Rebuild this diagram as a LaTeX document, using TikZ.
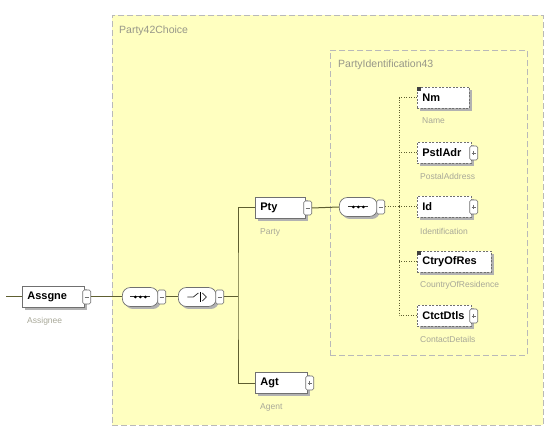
\documentclass[tikz,border=0pt]{standalone}
\usepackage{fontspec}
\setmainfont{Liberation Sans}
\usetikzlibrary{shadows,calc}
\definecolor{bgyel}{HTML}{FFFFC0}
\definecolor{conline}{HTML}{5E5E30}
\definecolor{lblc}{HTML}{A8A898}
\definecolor{boxc}{HTML}{707070}
\tikzset{
  elem/.style={draw=boxc, fill=white, line width=0.7pt, minimum height=21pt, inner ysep=0pt,
    inner xsep=5pt, text width=#1, align=left, font=\fontsize{11}{12}\selectfont\bfseries,
    drop shadow={shadow xshift=2.5pt, shadow yshift=-2.5pt, fill=gray!60, opacity=1}},
  optelem/.style={elem=#1, dash pattern=on 2pt off 1.5pt},
  conn/.style={draw=boxc, fill=white, line width=0.6pt, minimum width=8pt, minimum height=14pt,
    inner sep=0pt, rounded corners=1.5pt},
  comp/.style={draw=boxc, fill=white, line width=0.7pt, rounded corners=8pt, minimum height=19pt,
    minimum width=#1, inner sep=0pt,
    drop shadow={shadow xshift=2.5pt, shadow yshift=-2.5pt, fill=gray!60, opacity=1}},
  lbl/.style={font=\fontsize{8.5}{10}\selectfont, text=lblc, anchor=west, inner sep=0pt},
  ttl/.style={font=\fontsize{10.5}{12}\selectfont, text=lblc!90!black, anchor=west, inner sep=0pt},
  wire/.style={draw=conline, line width=1pt},
  dwire/.style={draw=conline, line width=1pt, dash pattern=on 1pt off 1.5pt},
  area/.style={draw=gray!55, fill=bgyel, line width=0.9pt, dash pattern=on 6pt off 3pt}
}
\newcommand{\plussign}[1]{\draw[boxc, line width=0.8pt] ($(#1)+(-2.2,0)$) -- ($(#1)+(2.2,0)$) ($(#1)+(0,-2.2)$) -- ($(#1)+(0,2.2)$);}
\newcommand{\minussign}[1]{\draw[boxc, line width=0.8pt] ($(#1)+(-2.2,0)$) -- ($(#1)+(2.2,0)$);}
\newcommand{\seqsym}[1]{\draw[black!80, line width=1pt] ($(#1)+(-10,0)$) -- ($(#1)+(10,0)$);
  \foreach \dx in {-5,0,5} \fill[black] ($(#1)+(\dx,0)$) circle (1.5pt);}
\newcommand{\chosym}[1]{\draw[black!80, line width=0.8pt] ($(#1)+(-10,0)$) -- ($(#1)+(-4,0)$) -- ($(#1)+(1,-4)$);
  \draw[black, line width=1.6pt] ($(#1)+(3,-5)$) -- ($(#1)+(3,5)$);
  \draw[black!80, line width=0.8pt] ($(#1)+(5,-4)$) -- ($(#1)+(9,0)$) -- ($(#1)+(5,4)$);}
\begin{document}
\begin{tikzpicture}[x=1pt, y=-1pt]
\useasboundingbox (0,0) rectangle (549,430);
% areas
\node[area, minimum width=431pt, minimum height=410pt, anchor=north west] (outer) at (112,15) {};
\node[ttl] (outert) at (119,31) {Party42Choice};
\node[area, minimum width=197pt, minimum height=305pt, anchor=north west] (inner) at (330,50) {};
\node[ttl] (innert) at (338,65) {PartyIdentification43};

% Assgne
\node[elem=52pt, anchor=west] (asg) at (22,297) {Assgne};
\node[conn] (asgc) at ($(asg.east)+(2,0)$) {};
\minussign{asgc}
\node[lbl] (asgl) at (27,321) {Assignee};
\coordinate (start) at (6,297);

% sequence 1
\node[comp=36pt, anchor=west] (seq1) at (122,297) {};
\seqsym{seq1}
\node[conn] (seq1c) at ($(seq1.east)+(3,0)$) {};
\minussign{seq1c}

% choice
\node[comp=38pt, anchor=west] (cho) at (178,297) {};
\chosym{cho}
\node[conn] (choc) at ($(cho.east)+(3,0)$) {};
\minussign{choc}
\coordinate (bus) at (238,297);

% Pty
\node[elem=40pt, anchor=west] (pty) at (255,208) {Pty};
\node[conn] (ptyc) at ($(pty.east)+(2,0)$) {};
\minussign{ptyc}
\node[lbl] (ptyl) at (260,232) {Party};

% Agt
\node[elem=42pt, anchor=west] (agt) at (255,383) {Agt};
\node[conn] (agtc) at ($(agt.east)+(2,0)$) {};
\plussign{agtc}
\node[lbl] (agtl) at (260,407) {Agent};

% sequence 2
\node[comp=38pt, anchor=west] (seq2) at (339,207) {};
\seqsym{seq2}
\node[conn] (seq2c) at ($(seq2.east)+(3,0)$) {};
\minussign{seq2c}
\coordinate (dbus) at (399,207);

% children
\node[optelem=42pt, anchor=west] (nm) at (417,98) {Nm};
\node[lbl] (nml) at (422,121) {Name};
\fill[black!75] (nm.north west) rectangle ++(4,4);

\node[optelem=44pt, anchor=west] (pst) at (417,153) {PstlAdr};
\node[conn] (pstc) at ($(pst.east)+(2,0)$) {};
\plussign{pstc}
\node[lbl] (pstl) at (420,176) {PostalAddress};

\node[optelem=44pt, anchor=west] (id) at (417,207) {Id};
\node[conn] (idc) at ($(id.east)+(2,0)$) {};
\plussign{idc}
\node[lbl] (idl) at (420,231) {Identification};

\node[optelem=64pt, anchor=west] (ctry) at (417,262) {CtryOfRes};
\node[lbl] (ctryl) at (420,285) {CountryOfResidence};
\fill[black!75] (ctry.north west) rectangle ++(4,4);

\node[optelem=44pt, anchor=west] (ctc) at (417,316) {CtctDtls};
\node[conn] (ctcc) at ($(ctc.east)+(2,0)$) {};
\plussign{ctcc}
\node[lbl] (ctcl) at (420,339) {ContactDetails};

% wires
\draw[wire] (start) -- (asg.west);
\draw[wire] (asgc.east) -- (seq1.west);
\draw[wire] (seq1c.east) -- (cho.west);
\draw[wire] (choc.east) -- (bus);
\draw[wire] (pty.west) -| (bus) |- (agt.west);
\draw[wire] (ptyc.east) -- (seq2.west);
\draw[dwire] (seq2c.east) -- (dbus);
\draw[dwire] (nm.west) -| (dbus) |- (ctc.west);
\draw[dwire] (pst.west) -- (pst.west -| dbus);
\draw[dwire] (id.west) -- (dbus);
\draw[dwire] (ctry.west) -- (ctry.west -| dbus);
\end{tikzpicture}
\end{document}
